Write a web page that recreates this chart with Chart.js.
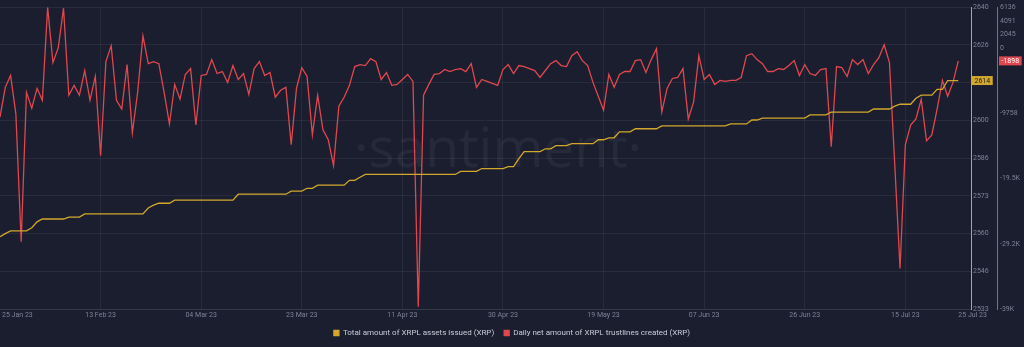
<!DOCTYPE html>
<html>
<head>
<meta charset="utf-8">
<script src="https://cdn.jsdelivr.net/npm/chart.js@4.4.1/dist/chart.umd.min.js"></script>
<style>
  html, body { margin: 0; padding: 0; background: #1b1e2f; }
  #wrap { width: 1024px; height: 347px; }
</style>
</head>
<body>
<div id="wrap"><canvas id="chart" width="1024" height="347"></canvas></div>
<script>
// Day offsets from 25 Jan 23 and the dates shown on the time axis
const dateTicks = [0, 19, 38, 57, 76, 95, 114, 133, 152, 171, 181];
const dateLabels = ['25 Jan 23', '13 Feb 23', '04 Mar 23', '23 Mar 23', '11 Apr 23', '30 Apr 23',
  '19 May 23', '07 Jun 23', '26 Jun 23', '15 Jul 23', '25 Jul 23'];

// Total amount of XRPL assets issued, one value per day
const assetsIssued = [
  2558.6, 2559.7, 2560.7, 2560.7, 2560.7, 2560.7, 2561.8, 2563.9, 2564.9, 2564.9,
  2564.9, 2564.9, 2564.9, 2565.6, 2565.6, 2565.6, 2566.7, 2566.7, 2566.7, 2566.7,
  2566.7, 2566.7, 2566.7, 2566.7, 2566.7, 2566.7, 2566.7, 2566.7, 2568.8, 2569.8,
  2570.5, 2570.5, 2570.5, 2571.6, 2571.6, 2571.6, 2571.6, 2571.6, 2571.6, 2571.6,
  2571.6, 2571.6, 2571.6, 2571.6, 2571.6, 2573.7, 2573.7, 2573.7, 2573.7, 2573.7,
  2573.7, 2573.7, 2573.7, 2573.7, 2573.7, 2574.8, 2574.8, 2574.8, 2575.8, 2575.8,
  2576.9, 2576.9, 2576.9, 2576.9, 2576.9, 2576.9, 2578.6, 2578.6, 2579.7, 2580.7,
  2580.7, 2580.7, 2580.7, 2580.7, 2580.7, 2580.7, 2580.7, 2580.7, 2580.7, 2580.7,
  2580.7, 2580.7, 2580.7, 2580.7, 2580.7, 2580.7, 2580.7, 2581.8, 2581.8, 2581.8,
  2581.8, 2582.8, 2582.8, 2582.8, 2582.8, 2582.8, 2583.5, 2583.5, 2586.3, 2588.8,
  2588.8, 2588.8, 2588.8, 2589.8, 2589.8, 2590.9, 2590.9, 2590.9, 2591.6, 2591.6,
  2591.6, 2591.6, 2591.6, 2593.0, 2593.0, 2593.7, 2593.7, 2595.8, 2595.8, 2595.8,
  2596.9, 2596.9, 2596.9, 2596.9, 2596.9, 2597.9, 2597.9, 2597.9, 2597.9, 2597.9,
  2597.9, 2597.9, 2597.9, 2597.9, 2597.9, 2597.9, 2597.9, 2597.9, 2598.6, 2598.6,
  2598.6, 2598.6, 2600.0, 2600.0, 2600.7, 2600.7, 2600.7, 2600.7, 2600.7, 2600.7,
  2600.7, 2600.7, 2600.7, 2601.8, 2601.8, 2601.8, 2601.8, 2602.8, 2602.8, 2602.8,
  2602.8, 2602.8, 2602.8, 2602.8, 2602.8, 2603.9, 2603.9, 2603.9, 2603.9, 2604.9,
  2605.6, 2605.6, 2605.6, 2607.7, 2608.8, 2608.8, 2608.8, 2610.9, 2610.9, 2614,
  2614, 2614
];

// Daily net amount of XRPL trustlines created
const trustlines = [
  -10300, -5860, -4080, -9860, -28960, -6600, -8970, -6010, -7790, 6136,
  -2160, 60, 5990, -7040, -5560, -7040, -3340, -7790, -4230, -16080,
  -2010, 360, -7790, -9120, -2450, -12670, -6600, 1840, -2310, -2010,
  -2310, -6600, -11340, -5420, -7640, -3930, -3050, -11490, -4080, -3930,
  -1710, -3790, -3490, -5120, -2600, -4680, -3790, -6900, -3050, -2010,
  -4080, -3640, -7340, -6300, -5860, -14450, -6010, -2900, -4230, -12970,
  -7040, -12230, -13710, -17560, -8670, -7340, -5560, -2750, -2450, -2600,
  -1570, -2010, -4680, -3640, -5560, -5420, -4680, -3930, -4970, -38700,
  -7040, -5420, -3930, -3790, -3190, -3490, -3190, -3050, -3490, -2310,
  -5860, -4680, -4970, -5270, -5560, -3190, -2450, -3790, -2600, -2750,
  -3050, -3340, -4380, -3340, -2310, -1860, -2600, -2750, -1120, -530,
  -1860, -2600, -5120, -7190, -9270, -3930, -5860, -3930, -3490, -3490,
  -1860, -1710, -3640, -1710, -80, -9560, -6010, -4530, -4380, -3050,
  -10600, -8080, -1120, -4680, -3930, -5420, -4820, -4970, -4820, -4820,
  -4380, -1120, -820, -1710, -2310, -3490, -3490, -3050, -3190, -2600,
  -1860, -4080, -2450, -3790, -4080, -3190, -3050, -14750, -2750, -2900,
  -4230, -1710, -2450, -1710, -3790, -2450, -1420, 510, -2160, -17410,
  -32960, -14450, -11490, -10600, -7640, -13860, -12970, -9120, -4820, -7190,
  -5120, -1898
];

// Axis ticks
const assetTickLabels = ['2533', '2546', '2560', '2573', '2586', '2600', '2613', '2626', '2640'];
const trustTicks = [-39032, -29274, -19516, -9758, 0, 2045, 4091, 6136];
const trustTickLabels = ['-39K', '-29.2K', '-19.5K', '-9758', '0', '2045', '4091', '6136'];

const YELLOW = '#d2a72c';
const RED = '#e0474f';
const TICK_COLOR = '#7d8296';
const FONT = 'Roboto, "Open Sans", sans-serif';

const assetPoints = assetsIssued.map((v, i) => ({ x: i, y: v }));
const trustPoints = trustlines.map((v, i) => ({ x: i, y: v }));

// Faint brand text behind the lines
const watermark = {
  id: 'watermark',
  beforeDatasetsDraw(chart) {
    const { ctx } = chart;
    ctx.save();
    ctx.fillStyle = 'rgba(255,255,255,0.05)';
    ctx.font = '400 55px "Open Sans", sans-serif';
    ctx.textAlign = 'center';
    ctx.textBaseline = 'alphabetic';
    ctx.fillText('·santiment·', 498, 167);
    ctx.restore();
  }
};

// Date labels under the plot; first and last sit left-aligned on their day
const dateAxisLabels = {
  id: 'dateAxisLabels',
  afterDraw(chart) {
    const { ctx } = chart;
    const xs = chart.scales.x;
    ctx.save();
    ctx.fillStyle = TICK_COLOR;
    ctx.font = '7px ' + FONT;
    ctx.textBaseline = 'middle';
    dateTicks.forEach((d, i) => {
      let x = xs.getPixelForValue(d);
      if (i === 0) { ctx.textAlign = 'left'; x += 2; }
      else if (i === dateTicks.length - 1) { ctx.textAlign = 'left'; }
      else ctx.textAlign = 'center';
      ctx.fillText(dateLabels[i], x, xs.top + 6);
    });
    ctx.restore();
  }
};

// Last-value badges on the two value axes
function badge(ctx, text, x, y, bg, fg) {
  ctx.font = '7px ' + FONT;
  const w = ctx.measureText(text).width + 5;
  ctx.fillStyle = bg;
  ctx.fillRect(x, y - 4.5, w, 9);
  ctx.fillStyle = fg;
  ctx.textAlign = 'left';
  ctx.textBaseline = 'middle';
  ctx.fillText(text, x + 2.5, y + 0.5);
}

const lastValues = {
  id: 'lastValues',
  afterDraw(chart) {
    const { ctx } = chart;
    const ya = chart.scales.yAssets;
    const yt = chart.scales.yTrust;
    const a = assetsIssued[assetsIssued.length - 1];
    const t = trustlines[trustlines.length - 1];
    ctx.save();
    badge(ctx, String(a), ya.left + 1, ya.getPixelForValue(a), YELLOW, '#1b1e2f');
    badge(ctx, String(t), yt.left + 2, yt.getPixelForValue(t), RED, '#ffffff');
    ctx.restore();
  }
};

new Chart(document.getElementById('chart'), {
  type: 'line',
  data: {
    datasets: [
      {
        label: 'Total amount of XRPL assets issued (XRP)',
        data: assetPoints,
        yAxisID: 'yAssets',
        borderColor: YELLOW,
        backgroundColor: YELLOW,
        borderWidth: 1.3,
        pointRadius: 0,
        tension: 0
      },
      {
        label: 'Daily net amount of XRPL trustlines created (XRP)',
        data: trustPoints,
        yAxisID: 'yTrust',
        borderColor: RED,
        backgroundColor: RED,
        borderWidth: 1.3,
        pointRadius: 0,
        tension: 0
      }
    ]
  },
  options: {
    responsive: false,
    animation: false,
    layout: { padding: { top: 4, left: 0, right: 0, bottom: 0 } },
    plugins: {
      legend: {
        position: 'bottom',
        labels: {
          color: '#c9ccd6',
          font: { family: FONT, size: 8 },
          boxWidth: 5,
          boxHeight: 5,
          padding: 10
        }
      },
      tooltip: { enabled: false }
    },
    scales: {
      x: {
        type: 'linear',
        min: 0,
        max: 183.4,
        afterBuildTicks(scale) { scale.ticks = dateTicks.slice(1, -1).map(v => ({ value: v })); },
        afterFit(scale) { scale.height = 10; },
        ticks: { display: false },
        border: { display: true, color: 'rgba(255,255,255,0.07)' },
        grid: { color: 'rgba(255,255,255,0.06)', tickLength: 0, drawTicks: false }
      },
      yAssets: {
        type: 'linear',
        position: 'right',
        weight: 0,
        min: 2533,
        max: 2640,
        afterBuildTicks(scale) {
          const step = (scale.max - scale.min) / (assetTickLabels.length - 1);
          scale.ticks = assetTickLabels.map((_, i) => ({ value: scale.min + step * i }));
        },
        afterFit(scale) { scale.width = 26; },
        ticks: {
          color: TICK_COLOR,
          font: { family: FONT, size: 7 },
          padding: 2,
          callback: (v, i) => assetTickLabels[i]
        },
        border: { display: true, color: YELLOW, width: 1 },
        grid: {
          color: 'rgba(255,255,255,0.06)',
          drawTicks: false
        }
      },
      yTrust: {
        type: 'linear',
        position: 'right',
        weight: 1,
        min: -39032,
        max: 6136,
        afterBuildTicks(scale) { scale.ticks = trustTicks.map(v => ({ value: v })); },
        afterFit(scale) { scale.width = 27; },
        ticks: {
          color: TICK_COLOR,
          font: { family: FONT, size: 7 },
          padding: 3,
          callback: (v, i) => trustTickLabels[i]
        },
        border: { display: true, color: RED, width: 1 },
        grid: { display: false, drawTicks: false }
      }
    }
  },
  plugins: [watermark, dateAxisLabels, lastValues]
});
</script>
</body>
</html>
